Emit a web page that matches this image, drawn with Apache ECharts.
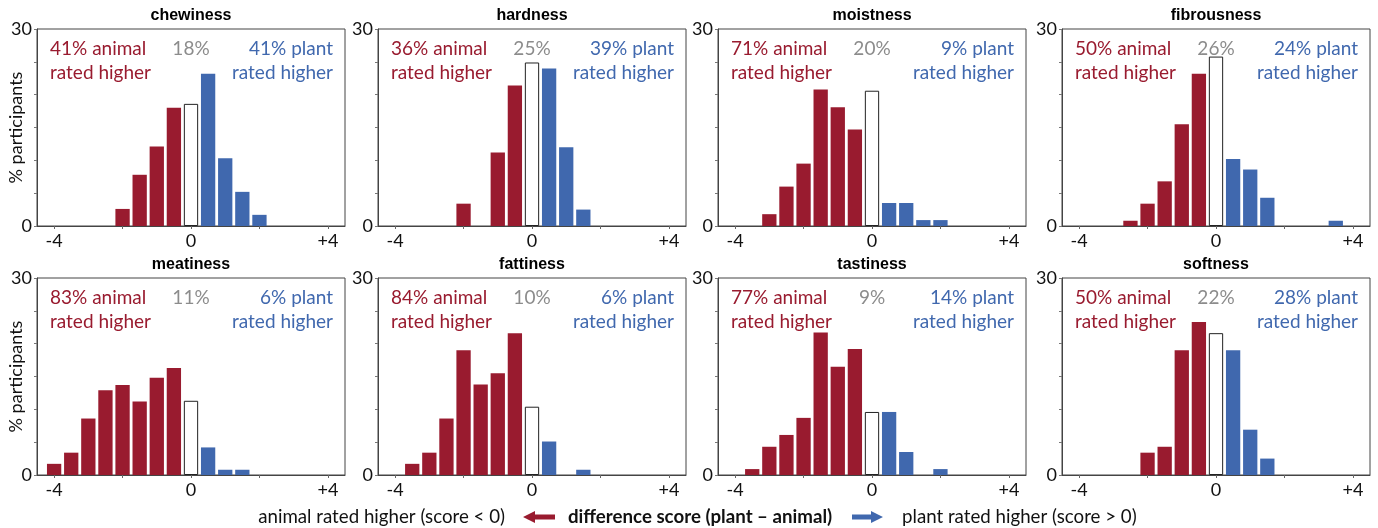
<!DOCTYPE html>
<html><head><meta charset="utf-8">
<script src="https://cdn.jsdelivr.net/npm/echarts@6/dist/echarts.min.js"></script>
<style>html,body{margin:0;padding:0;background:#fff}#c{width:1378px;height:528px}</style>
</head><body><div id="c"></div>
<script>
// ---- data ----
const traits = ['chewiness','hardness','moistness','fibrousness','meatiness','fattiness','tastiness','softness'];
const animalHigherPct = [41,36,71,50,83,84,77,50];
const equalPct = [18,25,20,26,11,10,9,22];
const plantHigherPct = [41,39,9,24,6,6,14,28];

const chewinessScores = [-2,-1.5,-1,-0.5,0,0.5,1,1.5,2];
const chewinessPct    = [2.6,7.8,12.1,18.0,18.6,23.2,10.3,5.2,1.7];
const hardnessScores  = [-2,-1,-0.5,0,0.5,1,1.5];
const hardnessPct     = [3.4,11.2,21.4,24.9,24.0,12.0,2.5];
const moistnessScores = [-3,-2.5,-2,-1.5,-1,-0.5,0,0.5,1,1.5,2];
const moistnessPct    = [1.8,6.0,9.5,20.8,18.1,14.7,20.6,3.5,3.5,0.9,0.9];
const fibrousnessScores = [-2.5,-2,-1.5,-1,-0.5,0,0.5,1,1.5,3.5];
const fibrousnessPct    = [0.8,3.4,6.8,15.5,23.2,25.8,10.2,8.6,4.3,0.8];
const meatinessScores = [-4,-3.5,-3,-2.5,-2,-1.5,-1,-0.5,0,0.5,1,1.5];
const meatinessPct    = [1.7,3.4,8.6,12.9,13.7,11.2,14.8,16.3,11.3,4.2,0.8,0.8];
const fattinessScores = [-3.5,-3,-2.5,-2,-1.5,-1,-0.5,0,0.5,1.5];
const fattinessPct    = [1.7,3.4,8.6,19.0,13.8,15.5,21.6,10.4,5.1,0.8];
const tastinessScores = [-3.5,-3,-2.5,-2,-1.5,-1,-0.5,0,0.5,1,2];
const tastinessPct    = [0.9,4.3,6.1,8.7,21.7,16.5,19.2,9.6,9.6,3.5,0.9];
const softnessScores  = [-2,-1.5,-1,-0.5,0,0.5,1,1.5];
const softnessPct     = [3.4,4.3,19.0,23.3,21.6,19.0,6.9,2.5];

const panelScores = [chewinessScores,hardnessScores,moistnessScores,fibrousnessScores,meatinessScores,fattinessScores,tastinessScores,softnessScores];
const panelPct = [chewinessPct,hardnessPct,moistnessPct,fibrousnessPct,meatinessPct,fattinessPct,tastinessPct,softnessPct];

const xTickValues = [-4,-2,0,2,4];
const xLabelValues = [-4,0,4];
const yLabelValues = [0,30];

// ---- style / layout ----
const RED = '#991b2f', BLUE = '#4068ae', GRAY = '#8c8c8c';
const FONT = 'Lato, "Open Sans", sans-serif';
const GRID_LEFTS = [37, 378, 718, 1062];
const GRID_W = 308, GRID_H = 197;
const ROW_TOPS = [29, 278];

const grids = [], xAxes = [], yAxes = [], series = [], titles = [], graphics = [];
traits.forEach((name, i) => {
  const col = i % 4, row = Math.floor(i / 4);
  const left = GRID_LEFTS[col], top = ROW_TOPS[row];
  grids.push({left: left, top: top, width: GRID_W, height: GRID_H, show: true, borderColor: '#444', borderWidth: 1, containLabel: false});
  xAxes.push({
    type: 'value', gridIndex: i, min: -4.5, max: 4.5,
    axisLine: {show: true, onZero: false, lineStyle: {color: '#444', width: 1}},
    axisTick: {show: true, length: 3, customValues: xTickValues, lineStyle: {color: '#666'}},
    axisLabel: {customValues: xLabelValues, formatter: v => v > 0 ? '+' + v : String(v), fontSize: 18, color: '#111', margin: 6, fontFamily: FONT},
    splitLine: {show: false}
  });
  yAxes.push({
    type: 'value', gridIndex: i, min: 0, max: 30, interval: 5,
    name: col === 0 ? '% participants' : '', nameLocation: 'middle', nameGap: 12, nameMoveOverlap: false,
    nameTextStyle: {fontSize: 18, color: '#111', fontFamily: FONT},
    axisLine: {show: true, onZero: false, lineStyle: {color: '#444', width: 1}},
    axisTick: {show: true, length: 3, lineStyle: {color: '#777'}},
    axisLabel: {customValues: yLabelValues, fontSize: 18, color: '#111', margin: 5, fontFamily: FONT},
    splitLine: {show: false}
  });
  series.push({
    type: 'bar', xAxisIndex: i, yAxisIndex: i, barWidth: 14.3,
    data: panelScores[i].map((s, j) => ({
      value: [s, panelPct[i][j]],
      itemStyle: s < 0 ? {color: RED} : s > 0 ? {color: BLUE} : {color: '#fff', borderColor: '#222', borderWidth: 1}
    })),
    silent: true
  });
  titles.push({
    text: name, left: left + GRID_W / 2, top: top - 21, textAlign: 'center', padding: 0,
    textStyle: {fontSize: 16, fontWeight: 'bold', color: '#000', fontFamily: '"Liberation Sans", Arial, sans-serif', lineHeight: 16}
  });
  const annFont = '19px ' + FONT;
  const y1 = top + 20, y2 = top + 44;
  const cx = left + GRID_W / 2;
  graphics.push(
    {type: 'text', x: left + 13, y: y1, style: {text: animalHigherPct[i] + '% animal', fill: RED, font: annFont, textAlign: 'left', textVerticalAlign: 'middle'}},
    {type: 'text', x: left + 13, y: y2, style: {text: 'rated higher', fill: RED, font: annFont, textAlign: 'left', textVerticalAlign: 'middle'}},
    {type: 'text', x: cx, y: y1, style: {text: equalPct[i] + '%', fill: GRAY, font: annFont, textAlign: 'center', textVerticalAlign: 'middle'}},
    {type: 'text', x: left + GRID_W - 12, y: y1, style: {text: plantHigherPct[i] + '% plant', fill: BLUE, font: annFont, textAlign: 'right', textVerticalAlign: 'middle'}},
    {type: 'text', x: left + GRID_W - 12, y: y2, style: {text: 'rated higher', fill: BLUE, font: annFont, textAlign: 'right', textVerticalAlign: 'middle'}}
  );
});

// bottom legend line
const LY = 517;
const legFont = '18.7px ' + FONT;
graphics.push(
  {type: 'text', x: 505, y: LY, style: {text: 'animal rated higher (score < 0)', fill: '#111', font: legFont, textAlign: 'right', textVerticalAlign: 'middle'}},
  {type: 'polygon', shape: {points: [[523, LY], [535, LY - 6], [535, LY - 2.5], [555, LY - 2.5], [555, LY + 2.5], [535, LY + 2.5], [535, LY + 6]]}, style: {fill: RED}},
  {type: 'text', x: 568, y: LY, style: {text: 'difference score (plant \u2013 animal)', fill: '#111', font: 'bold ' + legFont, textAlign: 'left', textVerticalAlign: 'middle'}},
  {type: 'polygon', shape: {points: [[883, LY], [871, LY - 6], [871, LY - 2.5], [852, LY - 2.5], [852, LY + 2.5], [871, LY + 2.5], [871, LY + 6]]}, style: {fill: BLUE}},
  {type: 'text', x: 902, y: LY, style: {text: 'plant rated higher (score > 0)', fill: '#111', font: legFont, textAlign: 'left', textVerticalAlign: 'middle'}}
);

const chart = echarts.init(document.getElementById('c'), null, {renderer: 'canvas'});
chart.setOption({
  animation: false,
  backgroundColor: '#fff',
  title: titles,
  grid: grids,
  xAxis: xAxes,
  yAxis: yAxes,
  series: series,
  graphic: graphics
});
</script></body></html>
